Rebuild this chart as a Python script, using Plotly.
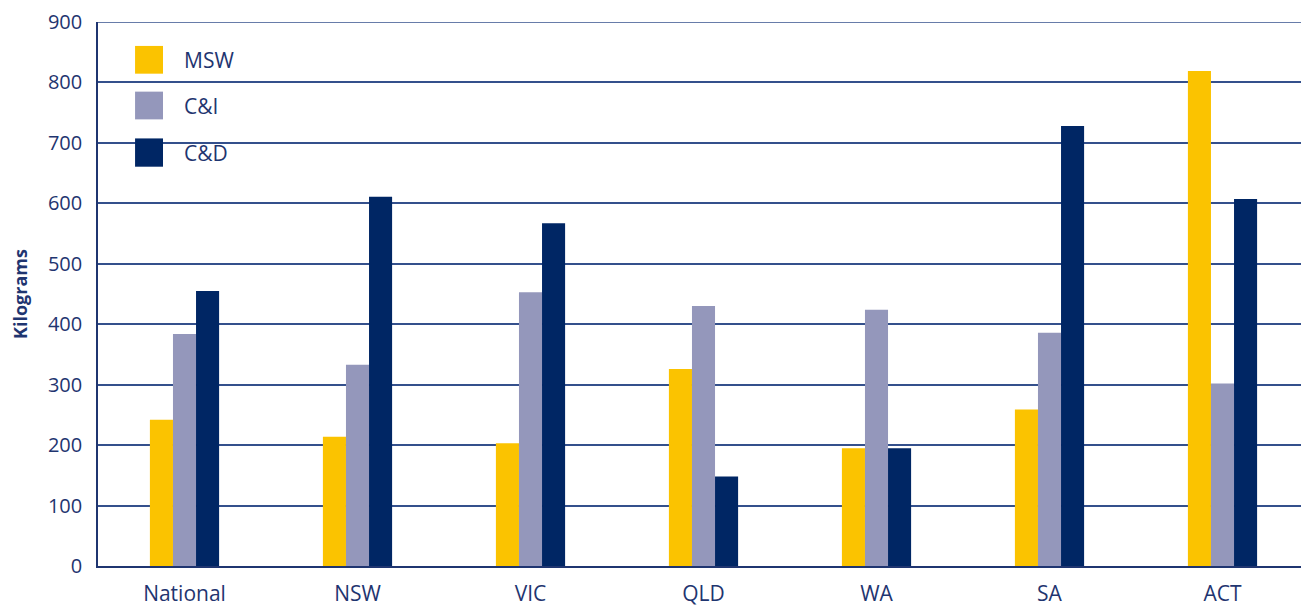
import plotly.graph_objects as go

categories = ["National", "NSW", "VIC", "QLD", "WA", "SA", "ACT"]
series_names = ["MSW", "C&I", "C&D"]
msw = [242, 214, 203, 326, 195, 259, 819]
ci = [384, 333, 453, 430, 424, 386, 302]
cd = [455, 611, 567, 148, 195, 728, 607]
y_ticks = [0, 100, 200, 300, 400, 500, 600, 700, 800, 900]

colors = ["#FBC300", "#9497BB", "#002664"]
navy = "#1f3570"
grid_col = "#34508c"
font_family = "Open Sans, Lato, sans-serif"

fig = go.Figure()
for name, vals, col in zip(series_names, [msw, ci, cd], colors):
    fig.add_trace(go.Bar(x=categories, y=vals, name=name, marker=dict(color=col, line=dict(width=0)),
                         showlegend=False))

# top frame line at the maximum tick
shapes = [dict(type="line", xref="x domain", yref="y", x0=0, x1=1, y0=y_ticks[-1], y1=y_ticks[-1],
               line=dict(color=grid_col, width=1.5), layer="below")]
# custom legend (large square swatches on a white box)
shapes.append(dict(type="rect", xref="x domain", yref="y domain", x0=0.001, x1=0.14, y0=0.71, y1=0.993,
                   fillcolor="white", line=dict(width=0), layer="below"))
annotations = []
sw_y = [(0.905, 0.956), (0.821, 0.872), (0.734, 0.786)]
for (y0, y1), name, col in zip(sw_y, series_names, colors):
    shapes.append(dict(type="rect", xref="x domain", yref="y domain", x0=0.0306, x1=0.0537,
                       y0=y0, y1=y1, fillcolor=col, line=dict(width=0), layer="above"))
    annotations.append(dict(xref="x domain", yref="y domain", x=0.0695, y=(y0 + y1) / 2,
                            text=name, showarrow=False, xanchor="left", yanchor="middle",
                            font=dict(size=21, color=navy, family=font_family)))

annotations.append(dict(xref="paper", yref="paper", x=-0.0644, y=0.5, xanchor="center", yanchor="middle",
                        text="<b>Kilograms</b>", textangle=-90, showarrow=False,
                        font=dict(size=18, color=navy, family=font_family)))

fig.update_layout(
    width=1301, height=600,
    margin=dict(l=90, r=0, t=12, b=42),
    paper_bgcolor="white", plot_bgcolor="white",
    barmode="group", bargap=0.6, bargroupgap=0,
    font=dict(family=font_family, color=navy),
    shapes=shapes, annotations=annotations,
    xaxis=dict(showgrid=False, showline=True, linecolor=navy, linewidth=1.5, ticks="",
               ticklabelstandoff=8, ticklabeloverflow="allow",
               tickfont=dict(size=21, color=navy), fixedrange=True),
    yaxis=dict(range=[0, 900], tickvals=y_ticks, showgrid=True, gridcolor=grid_col, gridwidth=1.5,
               showline=True, linecolor=navy, linewidth=1.5, ticks="", ticklabelstandoff=10,
               ticklabeloverflow="allow", tickfont=dict(size=20, color=navy), zeroline=False,
               fixedrange=True),
)

fig.write_html("out.html")
